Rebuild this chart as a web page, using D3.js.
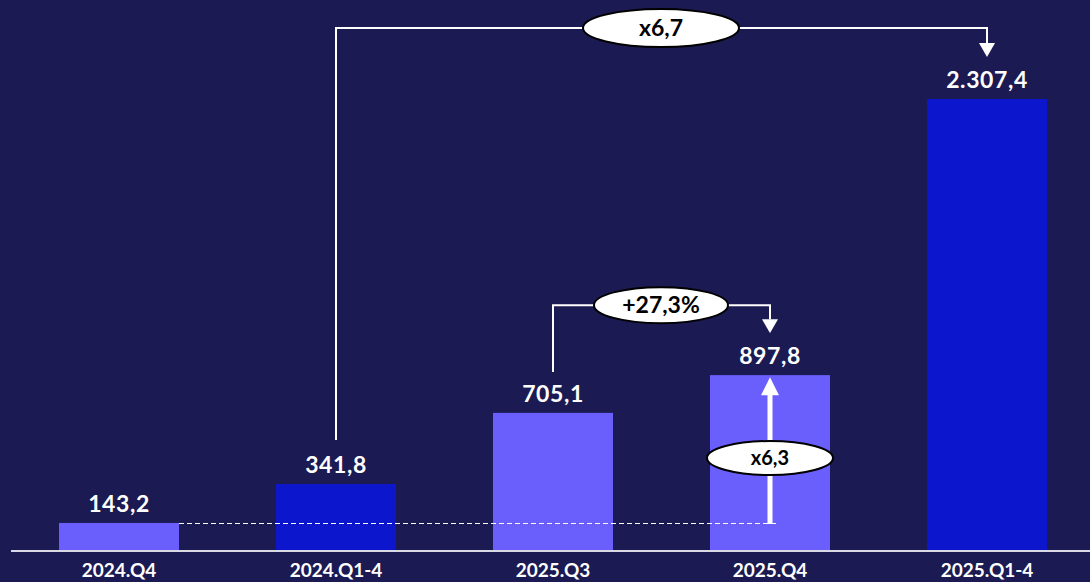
<!DOCTYPE html>
<html>
<head>
<meta charset="utf-8">
<script src="https://cdnjs.cloudflare.com/ajax/libs/d3/7.8.5/d3.min.js"></script>
<style>
  html, body { margin: 0; padding: 0; background: #1b1a52; }
  svg { display: block; }
  text { font-family: Lato, "Open Sans", sans-serif; font-weight: bold; }
</style>
</head>
<body>
<div id="chart"></div>
<script>
// data
var categories = ["2024.Q4", "2024.Q1-4", "2025.Q3", "2025.Q4", "2025.Q1-4"];
var values = [143.2, 341.8, 705.1, 897.8, 2307.4];
var valueLabels = ["143,2", "341,8", "705,1", "897,8", "2.307,4"];
var periodType = ["quarter", "year", "quarter", "quarter", "year"];
// comparisons: from category -> to category, label
var yearCompare = { from: "2024.Q1-4", to: "2025.Q1-4", label: "x6,7" };
var qoqCompare = { from: "2025.Q3", to: "2025.Q4", label: "+27,3%" };
var yoyCompare = { from: "2024.Q4", to: "2025.Q4", label: "x6,3" };

var width = 1090, height = 582;
var baseY = 551;

var svg = d3.select("#chart")
    .append("svg")
        .attr("width", width)
        .attr("height", height);

svg.append("rect")
    .attr("width", width)
    .attr("height", height)
    .attr("fill", "#1b1a52");

var defs = svg.append("defs");
defs.append("marker")
    .attr("id", "head")
    .attr("viewBox", "0 0 16 14")
    .attr("refX", 8).attr("refY", 0)
    .attr("markerWidth", 16).attr("markerHeight", 14)
    .attr("markerUnits", "userSpaceOnUse")
    .attr("orient", "0")
    .append("path")
        .attr("d", "M0,0 L16,0 L8,14 Z")
        .attr("fill", "white");

var xScale = d3.scaleBand()
    .domain(categories)
    .range([10.5, 1095.5])
    .paddingInner(0.447)
    .paddingOuter(0.2235);

var yScale = d3.scaleLinear()
    .domain([0, d3.max(values)])
    .range([baseY, 99]);

var color = d3.scaleOrdinal()
    .domain(["quarter", "year"])
    .range(["#6a5ffd", "#0c16cc"]);

var data = categories.map(function(c, i) {
    return { cat: c, value: values[i], label: valueLabels[i], type: periodType[i] };
});

function cx(cat) { return xScale(cat) + xScale.bandwidth() / 2; }
function valueOf(cat) { return values[categories.indexOf(cat)]; }

// bars
svg.selectAll(".bar")
    .data(data)
    .enter()
    .append("rect")
        .attr("class", "bar")
        .attr("x", function(d) { return xScale(d.cat); })
        .attr("y", function(d) { return yScale(d.value); })
        .attr("width", xScale.bandwidth())
        .attr("height", function(d) { return baseY - yScale(d.value); })
        .attr("fill", function(d) { return color(d.type); });

// value labels
svg.selectAll(".vlabel")
    .data(data)
    .enter()
    .append("text")
        .attr("class", "vlabel")
        .attr("x", function(d) { return cx(d.cat); })
        .attr("y", function(d) { return yScale(d.value) - 11; })
        .attr("text-anchor", "middle")
        .attr("font-size", "23px")
        .attr("letter-spacing", "0.6px")
        .attr("fill", "white")
        .text(function(d) { return d.label; });

// x axis
var xaxis = d3.axisBottom(xScale).tickSize(0).tickPadding(0);
var gx = svg.append("g")
    .attr("transform", "translate(0," + baseY + ")")
    .call(xaxis);
gx.select(".domain").remove();
gx.selectAll("text")
    .attr("y", 26)
    .attr("dy", 0)
    .attr("font-size", "19px")
    .attr("fill", "white")
    .attr("font-family", "Lato, 'Open Sans', sans-serif");

svg.append("line")
    .attr("x1", 11).attr("x2", width)
    .attr("y1", baseY).attr("y2", baseY)
    .attr("stroke", "#d9d9e6")
    .attr("stroke-width", 2);

// dashed reference line from 2024.Q4 level to the arrow in 2025.Q4
var refY = yScale(valueOf(yoyCompare.from));
var dashY = Math.round(refY) + 0.5;
svg.append("line")
    .attr("x1", xScale(yoyCompare.from) + xScale.bandwidth())
    .attr("x2", cx(yoyCompare.to) + 8)
    .attr("y1", dashY).attr("y2", dashY)
    .attr("stroke", "white")
    .attr("stroke-width", 1)
    .attr("stroke-dasharray", "5,3");

// vertical arrow inside 2025.Q4
svg.append("line")
    .attr("x1", cx(yoyCompare.to)).attr("x2", cx(yoyCompare.to))
    .attr("y1", dashY + 0.5)
    .attr("y2", yScale(valueOf(yoyCompare.to)) + 18)
    .attr("stroke", "white")
    .attr("stroke-width", 5);
svg.append("path")
    .attr("d", function() {
        var x = cx(yoyCompare.to), t = yScale(valueOf(yoyCompare.to)) + 2;
        return "M" + (x - 9) + "," + (t + 18) + " L" + (x + 9) + "," + (t + 18) + " L" + x + "," + t + " Z";
    })
    .attr("fill", "white");

function bubble(x, y, rx, ry, label, size) {
    svg.append("ellipse")
        .attr("cx", x).attr("cy", y)
        .attr("rx", rx).attr("ry", ry)
        .attr("fill", "white")
        .attr("stroke", "black")
        .attr("stroke-width", 2);
    svg.append("text")
        .attr("x", x).attr("y", y)
        .attr("dy", "0.36em")
        .attr("text-anchor", "middle")
        .attr("font-size", size)
        .attr("fill", "black")
        .text(label);
}

function bracket(cmp, topY, startY, tipY) {
    var x1 = cx(cmp.from), x2 = cx(cmp.to);
    svg.append("path")
        .attr("d", "M" + x1 + "," + startY + " V" + topY + " H" + x2 + " V" + (tipY - 14))
        .attr("fill", "none")
        .attr("stroke", "white")
        .attr("stroke-width", 2)
        .attr("marker-end", "url(#head)");
}

// year over year bracket
var topY1 = yScale(d3.max(values)) - 71;
bracket(yearCompare, topY1, yScale(valueOf(yearCompare.from)) - 44, yScale(valueOf(yearCompare.to)) - 42);
bubble((cx(yearCompare.from) + cx(yearCompare.to)) / 2 - 0.5, topY1, 78, 19, yearCompare.label, "23px");

// quarter over quarter bracket
var topY2 = yScale(valueOf(qoqCompare.to)) - 70;
bracket(qoqCompare, topY2, yScale(valueOf(qoqCompare.from)) - 41, yScale(valueOf(qoqCompare.to)) - 42);
bubble((cx(qoqCompare.from) + cx(qoqCompare.to)) / 2 - 0.5, topY2, 67, 18, qoqCompare.label, "23px");

// x6,3 bubble on the arrow
bubble(cx(yoyCompare.to), (refY + yScale(valueOf(yoyCompare.to))) / 2 + 9, 63, 17, yoyCompare.label, "20px");
</script>
</body>
</html>
